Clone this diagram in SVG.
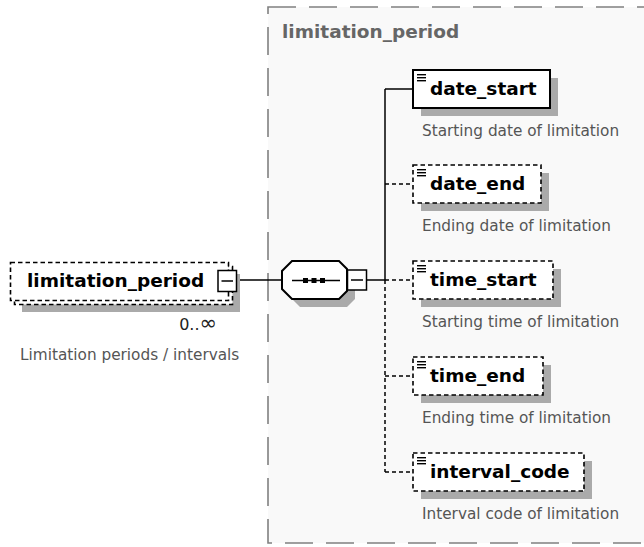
<svg xmlns="http://www.w3.org/2000/svg" width="644" height="547" viewBox="0 0 644 547">
<style>
.bg{fill:#f9f9f9;stroke:#808080;stroke-width:1.6;stroke-dasharray:28 13}
.title{font-family:"DejaVu Sans",Verdana,sans-serif;font-weight:bold;font-size:18.5px;fill:#666}
.lbl{font-family:"DejaVu Sans",Verdana,sans-serif;font-weight:bold;font-size:18.5px;fill:#000}
.desc{font-family:"DejaVu Sans",Verdana,sans-serif;font-size:15.3px;fill:#555}
.occ{font-family:"DejaVu Sans",Verdana,sans-serif;font-size:16px;fill:#222}
.shadow{fill:#aaaaaa}
.solid{fill:#fff;stroke:#000;stroke-width:2}
.opt{fill:#fff;stroke:#000;stroke-width:1.6;stroke-dasharray:4.5 3}
.ln{stroke:#000;stroke-width:1.5;fill:none}
.dln{stroke:#000;stroke-width:1.5;fill:none;stroke-dasharray:4 3}
.btn{fill:#fff;stroke:#000;stroke-width:1.5}
.ico{fill:#000}
</style>
<defs>
<g id="icon">
<rect x="0" y="0" width="9" height="1.4" class="ico"/>
<rect x="0" y="3" width="9" height="1.4" class="ico"/>
<rect x="0" y="6" width="9" height="1.4" class="ico"/>
</g>
</defs>
<rect x="0" y="0" width="644" height="547" fill="#fff"/>
<g id="group-limitation_period">
<rect x="268" y="7" width="390" height="536" class="bg"/>
<text x="282" y="38" class="title">limitation_period</text>
</g>
<g id="connectors">
<line x1="237" y1="280" x2="282" y2="280" class="ln"/>
<line x1="367" y1="280" x2="385" y2="280" class="ln"/>
<line x1="385" y1="89" x2="385" y2="280" class="ln"/>
<line x1="385" y1="280" x2="385" y2="472" class="dln"/>
<line x1="385" y1="89" x2="413" y2="89" class="ln"/>
<line x1="385" y1="184" x2="413" y2="184" class="dln"/>
<line x1="385" y1="280" x2="413" y2="280" class="dln"/>
<line x1="385" y1="376" x2="413" y2="376" class="dln"/>
<line x1="385" y1="472" x2="413" y2="472" class="dln"/>
</g>
<g id="node-limitation_period">
<rect x="22" y="274" width="218" height="38" class="shadow"/>
<rect x="14.5" y="266.5" width="218" height="38" class="opt"/>
<rect x="10.5" y="262.5" width="218" height="38" class="opt"/>
<text x="27" y="287" class="lbl">limitation_period</text>
<rect x="218" y="270.5" width="18.5" height="21" class="btn"/>
<line x1="221.5" y1="281" x2="233" y2="281" class="ln"/>
<text x="217" y="330" class="occ" text-anchor="end">0..<tspan font-size="21px">∞</tspan></text>
<text x="20" y="360" class="desc">Limitation periods / intervals</text>
</g>
<g id="node-sequence">
<polygon points="300,269 347,269 355,277 355,299 347,307 300,307 290,297 290,279" class="shadow"/>
<polygon points="292,261 339,261 347,269 347,291 339,299 292,299 282,289 282,271" class="solid"/>
<line x1="292" y1="280.5" x2="340" y2="280.5" class="ln"/>
<rect x="303" y="278" width="5" height="5" class="ico"/>
<rect x="311.5" y="278" width="5" height="5" class="ico"/>
<rect x="320" y="278" width="5" height="5" class="ico"/>
<rect x="347.5" y="270" width="19" height="20" class="btn"/>
<line x1="351" y1="280" x2="363" y2="280" class="ln"/>
</g>
<g id="node-date_start">
<rect x="421" y="78" width="137" height="38" class="shadow"/>
<rect x="413" y="70" width="137" height="38" class="solid"/>
<use href="#icon" x="417" y="74"/>
<text x="430" y="95" class="lbl">date_start</text>
<text x="422" y="136" class="desc">Starting date of limitation</text>
</g>
<g id="node-date_end">
<rect x="421" y="173" width="128" height="38" class="shadow"/>
<rect x="413" y="165" width="128" height="38" class="opt"/>
<use href="#icon" x="417" y="169"/>
<text x="430" y="190" class="lbl">date_end</text>
<text x="422" y="231" class="desc">Ending date of limitation</text>
</g>
<g id="node-time_start">
<rect x="421" y="269" width="140" height="38" class="shadow"/>
<rect x="413" y="261" width="140" height="38" class="opt"/>
<use href="#icon" x="417" y="265"/>
<text x="430" y="286" class="lbl">time_start</text>
<text x="422" y="327" class="desc">Starting time of limitation</text>
</g>
<g id="node-time_end">
<rect x="421" y="365" width="130" height="38" class="shadow"/>
<rect x="413" y="357" width="130" height="38" class="opt"/>
<use href="#icon" x="417" y="361"/>
<text x="430" y="382" class="lbl">time_end</text>
<text x="422" y="423" class="desc">Ending time of limitation</text>
</g>
<g id="node-interval_code">
<rect x="421" y="461" width="171" height="38" class="shadow"/>
<rect x="413" y="453" width="171" height="38" class="opt"/>
<use href="#icon" x="417" y="457"/>
<text x="430" y="478" class="lbl">interval_code</text>
<text x="422" y="519" class="desc">Interval code of limitation</text>
</g>
</svg>
